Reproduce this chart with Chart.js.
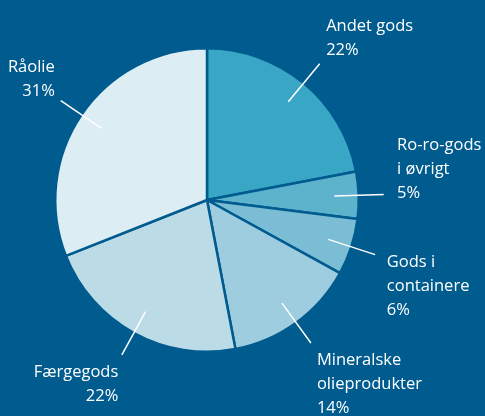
<!DOCTYPE html>
<html>
<head>
<meta charset="utf-8">
<script src="https://cdn.jsdelivr.net/npm/chart.js@4/dist/chart.umd.min.js"></script>
<style>
  html, body { margin: 0; padding: 0; background: #005b8f; }
  #wrap { width: 485px; height: 416px; position: relative; }
</style>
</head>
<body>
<div id="wrap"><canvas id="c" width="485" height="416"></canvas></div>
<script>
// ---- data ----
const categories = [
  ['Andet gods'],
  ['Ro-ro-gods', 'i øvrigt'],
  ['Gods i', 'containere'],
  ['Mineralske', 'olieprodukter'],
  ['Færgegods'],
  ['Råolie']
];
const shares = [22, 5, 6, 14, 22, 31];

// ---- style ----
const BG = '#005b8f';
const sliceColors = ['#3aa6c5', '#5db2cc', '#7bbdd5', '#9ecde0', '#bbdbe7', '#dcedf4'];
// label placement relative to the outer end of each leader line
const labelLayout = [
  { align: 'left',  dx: 6.5,  dy: -32.7 },
  { align: 'left',  dx: 13.4, dy: -44 },
  { align: 'left',  dx: 11.7, dy: 12.4 },
  { align: 'left',  dx: 6,    dy: 22.4 },
  { align: 'right', dx: -3.5, dy: 21.7 },
  { align: 'right', dx: -6,   dy: -28.6 }
];
const FONT = '16.5px "Open Sans", "Noto Sans", sans-serif';
const LINE_H = 24;

const bgPlugin = {
  id: 'bg',
  beforeDraw(chart) {
    const ctx = chart.ctx;
    ctx.save();
    ctx.fillStyle = BG;
    ctx.fillRect(0, 0, chart.width, chart.height);
    ctx.restore();
  }
};

const labelPlugin = {
  id: 'leaderLabels',
  afterDatasetsDraw(chart) {
    const ctx = chart.ctx;
    const meta = chart.getDatasetMeta(0);
    ctx.save();
    meta.data.forEach((arc, i) => {
      const p = arc.getProps(['x', 'y', 'startAngle', 'endAngle', 'outerRadius'], true);
      const mid = (p.startAngle + p.endAngle) / 2;
      const r0 = p.outerRadius * 0.84, r1 = p.outerRadius * 1.165;
      const sx = p.x + Math.cos(mid) * r0, sy = p.y + Math.sin(mid) * r0;
      const ex = p.x + Math.cos(mid) * r1, ey = p.y + Math.sin(mid) * r1;
      ctx.strokeStyle = '#ffffff';
      ctx.lineWidth = 1.5;
      ctx.beginPath();
      ctx.moveTo(sx, sy);
      ctx.lineTo(ex, ey);
      ctx.stroke();

      const L = labelLayout[i];
      const lines = categories[i].concat([shares[i] + '%']);
      ctx.fillStyle = '#ffffff';
      ctx.font = FONT;
      ctx.textAlign = L.align;
      ctx.textBaseline = 'alphabetic';
      lines.forEach((t, k) => {
        ctx.fillText(t, ex + L.dx, ey + L.dy + k * LINE_H);
      });
    });
    ctx.restore();
  }
};

new Chart(document.getElementById('c'), {
  type: 'pie',
  data: {
    labels: categories.map(c => c.join(' ')),
    datasets: [{
      data: shares,
      backgroundColor: sliceColors,
      borderColor: BG,
      borderWidth: 2.5
    }]
  },
  options: {
    responsive: false,
    animation: false,
    layout: { padding: { left: 54, right: 125, top: 47, bottom: 63 } },
    plugins: { legend: { display: false }, tooltip: { enabled: false } }
  },
  plugins: [bgPlugin, labelPlugin]
});
</script>
</body>
</html>
